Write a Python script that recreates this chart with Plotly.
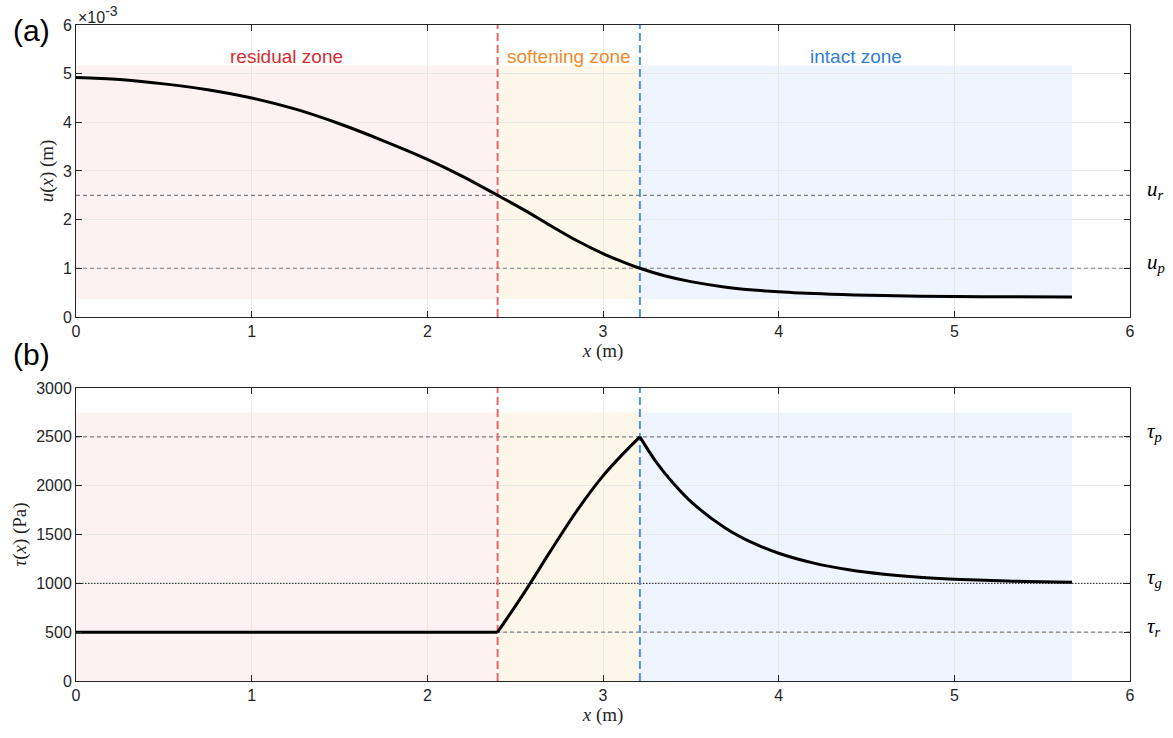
import plotly.graph_objects as go

# ---------------- data ----------------
# displacement u(x), in units of 1e-3 m
x_u = [0.0, 0.25, 0.5, 0.75, 1.0, 1.25, 1.5, 1.75, 2.0, 2.2, 2.4, 2.55, 2.7, 2.85,
       3.0, 3.1, 3.21, 3.35, 3.5, 3.7, 4.0, 4.3, 4.6, 5.0, 5.3, 5.67]
u_e3 = [4.92, 4.88, 4.79, 4.67, 4.50, 4.27, 3.97, 3.62, 3.24, 2.89, 2.50, 2.20, 1.88, 1.57,
        1.30, 1.15, 1.00, 0.845, 0.725, 0.612, 0.515, 0.465, 0.438, 0.42, 0.414, 0.41]

# shear stress tau(x), Pa
x_tau = [0.0, 1.0, 2.0, 2.4, 2.55, 2.7, 2.85, 3.0, 3.1, 3.21,
         3.3, 3.4, 3.52, 3.7, 3.85, 4.0, 4.2, 4.4, 4.6, 4.8, 5.0, 5.3, 5.67]
tau = [500, 500, 500, 500, 900, 1327, 1740, 2100, 2300, 2500,
       2250, 2026, 1805, 1562, 1416, 1308, 1207, 1139, 1093, 1062, 1042, 1023, 1011]

# zone boundaries (m)
x_r = 2.4     # residual / softening
x_p = 3.21    # softening / intact

# reference levels
u_r, u_p = 2.5, 1.0            # 1e-3 m
tau_p, tau_g, tau_r = 2500, 1000, 500

zone_names = ["residual zone", "softening zone", "intact zone"]
zone_text_colors = ["#D62D33", "#EF8A2B", "#2F7ED8"]
zone_fill_colors = ["#FDF2F2", "#FDF7EA", "#EFF5FE"]

x_ticks = [0, 1, 2, 3, 4, 5, 6]
u_ticks = [0, 1, 2, 3, 4, 5, 6]
tau_ticks = [0, 500, 1000, 1500, 2000, 2500, 3000]

# ---------------- figure ----------------
AX = "#262626"
GRID = "#E8E8E8"
SERIF = "Liberation Serif"
SANS = "Liberation Sans"

fig = go.Figure()

fig.add_trace(go.Scatter(x=x_u, y=u_e3, mode="lines", line=dict(color="black", width=3, shape="spline"),
                         xaxis="x", yaxis="y", showlegend=False, hoverinfo="skip"))

# split tau into segments at the zone boundaries (curve has kinks there)
bounds = [0.0, x_r, x_p, x_tau[-1]]
for i in range(3):
    idx = [k for k, xv in enumerate(x_tau) if bounds[i] - 1e-9 <= xv <= bounds[i + 1] + 1e-9]
    fig.add_trace(go.Scatter(x=[x_tau[k] for k in idx], y=[tau[k] for k in idx], mode="lines",
                             line=dict(color="black", width=3, shape="spline" if i > 0 else "linear"),
                             xaxis="x2", yaxis="y2", showlegend=False, hoverinfo="skip"))

shapes = []
annotations = []
edges = [0.0, x_r, x_p, x_u[-1]]
u_lo, u_hi = 0.9 * min(u_e3), 1.05 * max(u_e3)
t_lo, t_hi = 0.0, 1.1 * max(tau)
for i in range(3):
    shapes.append(dict(type="rect", xref="x", yref="y", x0=edges[i], x1=edges[i + 1], y0=u_lo, y1=u_hi,
                       fillcolor=zone_fill_colors[i], line=dict(width=0), layer="below"))
    shapes.append(dict(type="rect", xref="x2", yref="y2", x0=edges[i], x1=edges[i + 1], y0=t_lo, y1=t_hi,
                       fillcolor=zone_fill_colors[i], line=dict(width=0), layer="below"))
    annotations.append(dict(xref="x", yref="y", x=(edges[i] + edges[i + 1]) / 2, y=1.09 * max(u_e3),
                            text=zone_names[i], showarrow=False,
                            font=dict(family=SANS, size=19, color=zone_text_colors[i])))

# horizontal reference lines
for xr, yr, val, dash, col in [("x", "y", u_r, "4px,3px", "#808080"),
                               ("x", "y", u_p, "4px,3px", "#808080"),
                               ("x2", "y2", tau_p, "4px,3px", "#808080"),
                               ("x2", "y2", tau_r, "4px,3px", "#808080"),
                               ("x2", "y2", tau_g, "1.5px,1.5px", "#404040")]:
    shapes.append(dict(type="line", xref=xr, yref=yr, x0=0, x1=6, y0=val, y1=val,
                       line=dict(color=col, width=1.2, dash=dash), layer="between"))

# vertical zone boundaries
for xr, yr, ytop in [("x", "y", 6), ("x2", "y2", 3000)]:
    shapes.append(dict(type="line", xref=xr, yref=yr, x0=x_r, x1=x_r, y0=0, y1=ytop,
                       line=dict(color="#E46A6A", width=2, dash="8px,4px"), layer="between"))
    shapes.append(dict(type="line", xref=xr, yref=yr, x0=x_p, x1=x_p, y0=0, y1=ytop,
                       line=dict(color="#4F92E0", width=2, dash="8px,4px"), layer="between"))

# right-side level labels
for yr, val, txt in [("y", u_r, "<i>u<sub>r</sub></i>"), ("y", u_p, "<i>u<sub>p</sub></i>"),
                     ("y2", tau_p, "<i>τ<sub>p</sub></i>"), ("y2", tau_g, "<i>τ<sub>g</sub></i>"),
                     ("y2", tau_r, "<i>τ<sub>r</sub></i>")]:
    annotations.append(dict(xref="paper", yref=yr, x=1.014, y=val, xanchor="left", yanchor="middle",
                            yshift=5, text=txt, showarrow=False,
                            font=dict(family=SERIF, size=21, color="black")))

annotations.append(dict(xref="paper", yref="paper", x=-0.062, y=0.992, text="(a)", showarrow=False,
                        xanchor="left", yanchor="middle", font=dict(family=SANS, size=30, color="black")))
annotations.append(dict(xref="paper", yref="paper", x=-0.062, y=0.497, text="(b)", showarrow=False,
                        xanchor="left", yanchor="middle", font=dict(family=SANS, size=30, color="black")))
annotations.append(dict(xref="paper", yref="paper", x=0.0, y=1.0,
                        text="×10<sup><span style='font-size:14px'>-3</span></sup>", showarrow=False,
                        xanchor="left", yanchor="bottom", yshift=-3, font=dict(family=SANS, size=16, color=AX)))

axis_common = dict(showline=True, linecolor=AX, linewidth=1, mirror="ticks", ticks="inside", ticklen=6,
                   tickcolor=AX, showgrid=True, gridcolor=GRID, gridwidth=1, zeroline=False,
                   tickfont=dict(family=SANS, size=16, color=AX))

fig.update_layout(
    width=1173, height=738,
    margin=dict(l=76, r=43, t=25, b=57),
    paper_bgcolor="white", plot_bgcolor="white",
    shapes=shapes, annotations=annotations,
    xaxis=dict(domain=[0, 1], anchor="y", range=[0, 6], tickvals=x_ticks,
               title=dict(text="<i>x</i> (m)", font=dict(family=SERIF, size=19, color=AX), standoff=2),
               **axis_common),
    yaxis=dict(domain=[0.555, 1], anchor="x", range=[0, 6], tickvals=u_ticks,
               title=dict(text="<i>u</i>(<i>x</i>) (m)", font=dict(family=SERIF, size=19, color=AX), standoff=4),
               **axis_common),
    xaxis2=dict(domain=[0, 1], anchor="y2", range=[0, 6], tickvals=x_ticks,
                title=dict(text="<i>x</i> (m)", font=dict(family=SERIF, size=19, color=AX), standoff=2),
                **axis_common),
    yaxis2=dict(domain=[0, 0.4466], anchor="x2", range=[0, 3000], tickvals=tau_ticks,
                title=dict(text="<i>τ</i>(<i>x</i>) (Pa)", font=dict(family=SERIF, size=19, color=AX), standoff=4),
                **axis_common),
)

fig.write_html("out.html", config={"displayModeBar": False},
               post_script="document.body.style.margin='0';document.body.style.overflow='hidden';")
